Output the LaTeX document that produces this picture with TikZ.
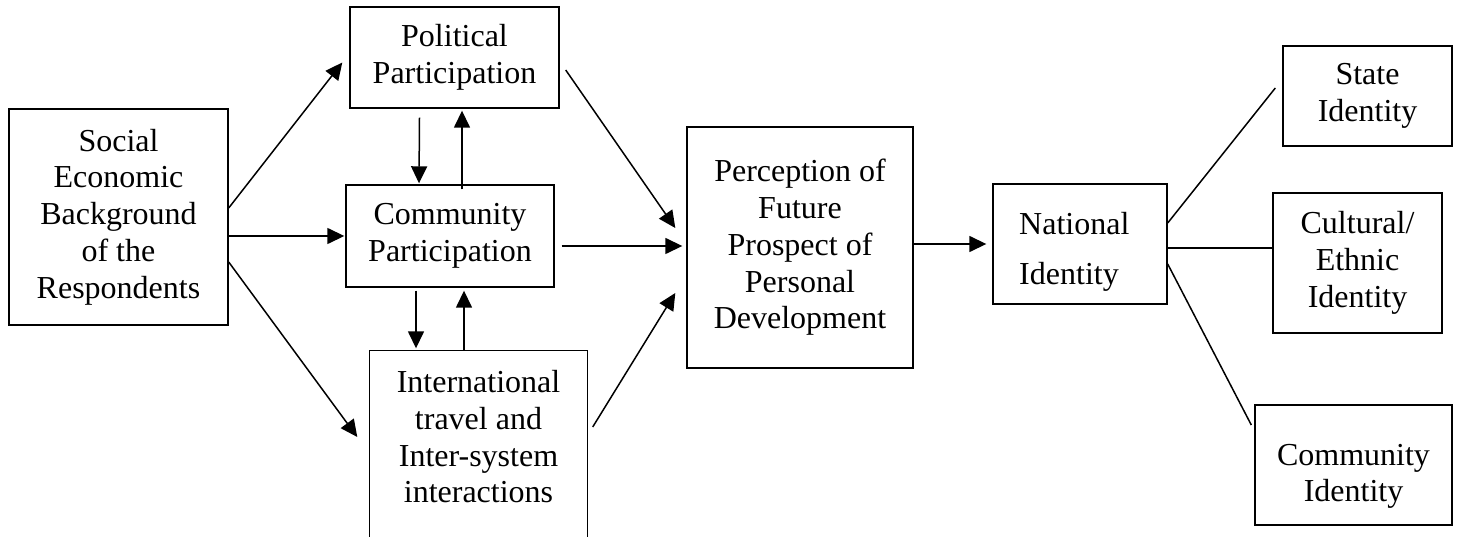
\documentclass[tikz,border=0pt]{standalone}
\usepackage{fontspec}
\setmainfont{Liberation Serif}
\usetikzlibrary{arrows.meta}

\begin{document}
\begin{tikzpicture}[x=1pt,y=-1pt,
   box/.style={draw,line width=1.4pt,align=center,inner sep=0pt,
               font=\fontsize{32}{36.7}\selectfont},
   arr/.style={line width=1.5pt,-{Triangle[length=17pt,width=16pt]}},
   lnk/.style={line width=1.5pt}]
   \useasboundingbox (0,0) rectangle (1459,537);
   \clip (0,0) rectangle (1459,537);
   \node[box,minimum width=219,minimum height=216] (social) at (118.5,217)
      {Social\\Economic\\Background\\of the\\Respondents};
   \node[box,minimum width=209,minimum height=101] (pol) at (454.5,57.5)
      {Political\\Participation};
   \node[box,minimum width=208,minimum height=102] (comm) at (450,236)
      {Community\\Participation};
   \node[box,draw=none,minimum width=217,minimum height=172] (intl) at (478.5,437)
      {International\\travel and\\Inter-system\\interactions};
   \draw[line width=1.4pt] ([yshift=-30pt]intl.south west) -- (intl.north west)
      -- (intl.north east) -- ([yshift=-30pt]intl.south east);
   \node[box,minimum width=226,minimum height=241] (perc) at (800,247.5)
      {Perception of\\Future\\Prospect of\\Personal\\Development};
   \node[box,align=left,minimum width=174,minimum height=120] (nat) at (1080,244)
      {\rule{0pt}{38pt}National\\[13pt]Identity\hspace*{22pt}};
   \node[box,minimum width=169,minimum height=100] (state) at (1367.5,96)
      {State\\Identity};
   \node[box,minimum width=169,minimum height=140] (cult) at (1357.5,263)
      {Cultural/\\Ethnic\\Identity};
   \node[box,minimum width=197,minimum height=120] (commid) at (1353.5,465)
      {\rule{0pt}{44pt}Community\\Identity};

   \draw[arr] ([yshift=9pt]social.east) -- ([xshift=-7pt,yshift=-5pt]pol.west);
   \draw[arr] (social.east |- comm.west) -- ([xshift=-1pt]comm.west);
   \draw[arr] ([yshift=-45pt]social.east) -- ([xshift=-12pt]intl.west);
   \draw[arr] ([xshift=-35pt,yshift=-9pt]pol.south) -- ([xshift=-31pt,yshift=1pt]comm.north);
   \draw[arr] ([xshift=12pt,yshift=-5pt]comm.north) -- ([xshift=7.5pt,yshift=-2pt]pol.south);
   \draw[arr] ([xshift=-34pt,yshift=-3pt]comm.south) -- ([xshift=-62.5pt,yshift=2pt]intl.north);
   \draw[arr] ([xshift=-14.5pt]intl.north) -- ([xshift=14pt,yshift=-3pt]comm.south);
   \draw[arr] ([xshift=6pt,yshift=-12.5pt]pol.east) -- ([xshift=-11pt,yshift=19.5pt]perc.west);
   \draw[arr] ([xshift=7pt,yshift=-10pt]comm.east) -- ([xshift=-4pt,yshift=1.5pt]perc.west);
   \draw[arr] ([xshift=5pt,yshift=10pt]intl.east) -- ([xshift=-11pt,yshift=-45.5pt]perc.west);
   \draw[arr] (perc.east |- nat.west) -- ([xshift=-6pt]nat.west);
   \draw[lnk] ([yshift=21pt]nat.east) -- ([xshift=-7pt,yshift=8pt]state.west);
   \draw[lnk] ([yshift=-4pt]nat.east) -- ([yshift=-4pt]nat.east -| cult.west);
   \draw[lnk] ([yshift=-20pt]nat.east) -- ([xshift=-3pt,yshift=40pt]commid.west);
\end{tikzpicture}
\end{document}
